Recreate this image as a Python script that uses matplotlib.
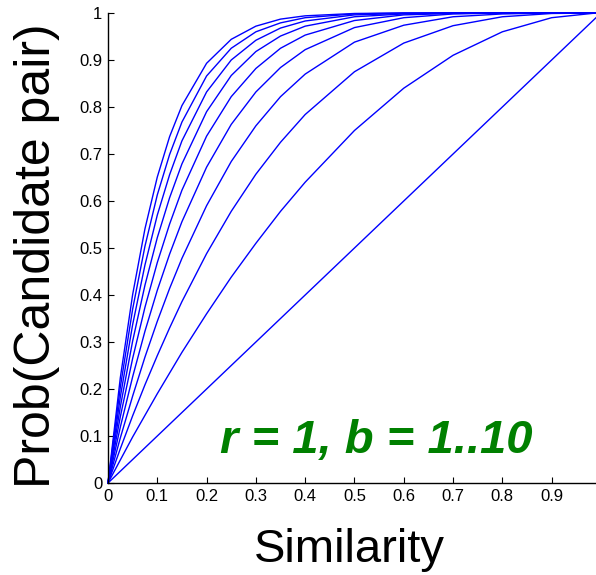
import matplotlib
matplotlib.use("Agg")
import matplotlib.pyplot as plt

#
# Values
#
similarity = [0, .025, .05, .075, .1, .125, .15, .2, .25, .3, .35, .4, .5, .6, .7, .8, .9, .99]

b1  = [0, .025, .05, .075, .1, .125, .15, .2, .25, .3, .35, .4, .5, .6, .7, .8, .9, .99]
b2  = [0, .049, .098, .144, .19, .234, .278, .36, .438, .51, .578, .64, .75, .84, .91, .96, .99, 1.0]
b3  = [0, .073, .143, .209, .271, .330, .386, .488, .578, .657, .725, .784, .875, .936, .973, .992, .999, 1.0]
b4  = [0, .096, .185, .268, .344, .414, .478, .590, .684, .760, .822, .870, .938, .974, .992, .998, 1.0, 1.0]
b5  = [0, .119, .226, .323, .410, .487, .556, .672, .763, .832, .884, .922, .969, .990, .998, 1.0, 1.0, 1.0]
b6  = [0, .141, .265, .374, .469, .551, .623, .738, .822, .882, .925, .953, .984, .996, .999, 1.0, 1.0, 1.0]
b7  = [0, .162, .302, .421, .522, .607, .679, .790, .867, .918, .951, .972, .992, .998, 1.0, 1.0, 1.0, 1.0]
b8  = [0, .183, .337, .464, .570, .656, .728, .832, .900, .942, .968, .983, .996, .999, 1.0, 1.0, 1.0, 1.0]
b9  = [0, .204, .370, .504, .613, .699, .768, .866, .925, .960, .979, .990, .998, 1.0, 1.0, 1.0, 1.0, 1.0]
b10 = [0, .224, .401, .541, .651, .737, .803, .893, .944, .972, .987, .994, .999, 1.0, 1.0, 1.0, 1.0, 1.0]

curves = [b1, b2, b3, b4, b5, b6, b7, b8, b9, b10]

xticks = [0, .1, .2, .3, .4, .5, .6, .7, .8, .9]
yticks = [0, .1, .2, .3, .4, .5, .6, .7, .8, .9, 1]

#
# Plot
#
plt.rcParams['font.family'] = ['Liberation Sans', 'DejaVu Sans']

fig = plt.figure(figsize=(5.96, 5.75), dpi=100)
ax = fig.add_axes([108/596, 1 - 483/575, 488/596, 470/575])

for c in curves:
    ax.plot(similarity, c, color='#0000ff', linewidth=1.0, clip_on=False)

ax.set_xlim(0, 0.99)
ax.set_ylim(0, 1)
ax.set_xticks(xticks)
ax.set_yticks(yticks)
ax.set_xticklabels(["0"] + ["%.1f" % t for t in xticks[1:]])
ax.set_yticklabels(["0"] + ["%.1f" % t for t in yticks[1:-1]] + ["1"])
ax.tick_params(direction='in', length=4.5, width=0.8, labelsize=12, pad=4)

for s in ['top', 'right']:
    ax.spines[s].set_visible(False)
for s in ['left', 'bottom']:
    ax.spines[s].set_linewidth(1.0)

ax.set_xlabel("Similarity", fontsize=34)
ax.set_ylabel("Prob(Candidate pair)", fontsize=36)
ax.xaxis.set_label_coords(0.494, -0.096)
ax.yaxis.set_label_coords(-0.098, 0.483)

ax.text(0.227, 0.064, "r = 1, b = 1..10", fontsize=34, fontweight='bold',
        style='italic', color='#008000', va='baseline', ha='left')

fig.savefig("out.png", dpi=100)
